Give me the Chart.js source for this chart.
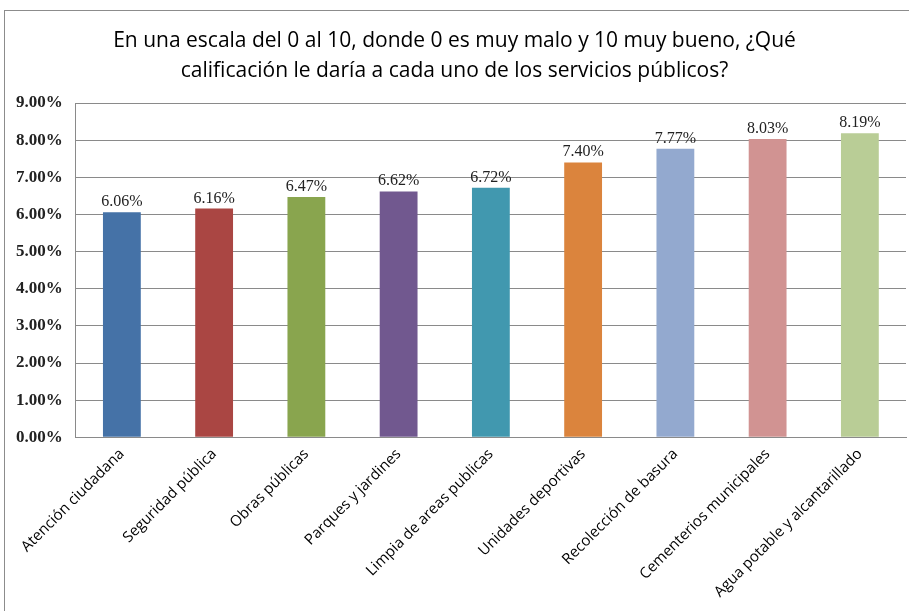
<!DOCTYPE html>
<html>
<head>
<meta charset="utf-8">
<script src="https://cdn.jsdelivr.net/npm/chart.js@4/dist/chart.umd.min.js"></script>
<style>
  body { margin: 0; background: #fff; }
  #frame {
    position: absolute; left: 4px; top: 10px; width: 905px; height: 601px;
    border-left: 1px solid #8c8c8c; border-top: 1px solid #8c8c8c;
  }
</style>
</head>
<body>
<div id="frame"><canvas id="chart" width="904" height="600"></canvas></div>
<script>
const categories = [
  'Atención ciudadana', 'Seguridad pública', 'Obras públicas', 'Parques y jardines',
  'Limpia de areas publicas', 'Unidades deportivas', 'Recolección de basura',
  'Cementerios municipales', 'Agua potable y alcantarillado'
];
const values = [6.06, 6.16, 6.47, 6.62, 6.72, 7.40, 7.77, 8.03, 8.19];
const barColors = ['#4572A7', '#AA4643', '#89A54E', '#71588F', '#4198AF', '#DB843D', '#93A9CF', '#D19392', '#B9CD96'];
const titleLines = [
  'En una escala del 0 al 10, donde 0 es muy malo y 10 muy bueno, ¿Qué',
  'calificación le daría a cada uno de los servicios públicos?'
];

// simple value labels above each bar
const valueLabels = {
  id: 'valueLabels',
  afterDatasetsDraw(chart) {
    const ctx = chart.ctx;
    const meta = chart.getDatasetMeta(0);
    ctx.save();
    ctx.font = '16px "Liberation Serif"';
    ctx.fillStyle = '#222';
    ctx.textAlign = 'center';
    ctx.textBaseline = 'alphabetic';
    meta.data.forEach((bar, i) => {
      ctx.fillText(values[i].toFixed(2) + '%', bar.x, bar.y - 6);
    });
    ctx.restore();
  }
};

new Chart(document.getElementById('chart').getContext('2d'), {
  type: 'bar',
  data: {
    labels: categories,
    datasets: [{
      data: values,
      backgroundColor: barColors,
      borderWidth: 0,
      barPercentage: 0.41,
      categoryPercentage: 1
    }]
  },
  options: {
    responsive: false,
    animation: false,
    layout: { padding: { left: -2, right: 3, top: 0, bottom: 2 } },
    plugins: {
      legend: { display: false },
      tooltip: { enabled: false },
      title: {
        display: true,
        text: titleLines,
        color: '#000',
        font: { family: 'Open Sans', size: 21, weight: 'normal', lineHeight: 1.43 },
        padding: { top: 15, bottom: 17 }
      }
    },
    scales: {
      y: {
        min: 0,
        max: 9,
        ticks: {
          stepSize: 1,
          color: '#222',
          font: { family: 'Liberation Serif', size: 17, weight: 'bold' },
          padding: 13,
          callback: v => v.toFixed(2) + '%'
        },
        grid: { color: '#8a8a8a', drawTicks: false },
        border: { color: '#8a8a8a' }
      },
      x: {
        ticks: {
          color: '#000',
          font: { family: 'Open Sans', size: 15 },
          minRotation: 45,
          maxRotation: 45,
          padding: 8
        },
        grid: { display: false, drawTicks: false },
        border: { color: '#8a8a8a' }
      }
    }
  },
  plugins: [valueLabels]
});
</script>
</body>
</html>
